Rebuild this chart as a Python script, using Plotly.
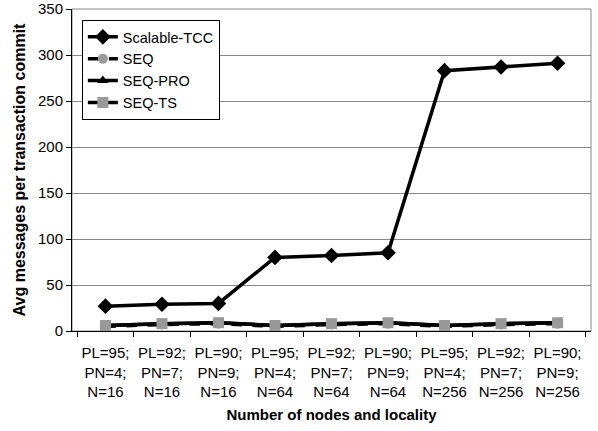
import plotly.graph_objects as go

categories = [
    "PL=95;<br>PN=4;<br>N=16", "PL=92;<br>PN=7;<br>N=16", "PL=90;<br>PN=9;<br>N=16",
    "PL=95;<br>PN=4;<br>N=64", "PL=92;<br>PN=7;<br>N=64", "PL=90;<br>PN=9;<br>N=64",
    "PL=95;<br>PN=4;<br>N=256", "PL=92;<br>PN=7;<br>N=256", "PL=90;<br>PN=9;<br>N=256",
]
scalable_tcc = [27, 29, 30, 80, 82, 85, 283, 287, 291]
seq = [5, 7, 8, 5, 7, 8, 5, 7, 8]
seq_pro = [6, 8, 9, 6, 8, 9, 6, 8, 9]
seq_ts = [6, 8, 9, 6, 8, 9, 6, 8, 9]

fig = go.Figure()
fig.add_trace(go.Scatter(x=categories, y=scalable_tcc, name="Scalable-TCC", mode="lines+markers",
                         line=dict(color="black", width=3.5),
                         marker=dict(symbol="diamond", size=12, color="black")))
fig.add_trace(go.Scatter(x=categories, y=seq, name="SEQ", mode="lines+markers",
                         line=dict(color="black", width=3.5, dash="dash"),
                         marker=dict(symbol="circle", size=10, color="#999999")))
fig.add_trace(go.Scatter(x=categories, y=seq_pro, name="SEQ-PRO", mode="lines+markers",
                         line=dict(color="black", width=3.5),
                         marker=dict(symbol="triangle-up", size=10, color="black")))
fig.add_trace(go.Scatter(x=categories, y=seq_ts, name="SEQ-TS", mode="lines+markers",
                         line=dict(color="black", width=3.5),
                         marker=dict(symbol="square", size=11, color="#999999")))

fig.update_layout(
    width=598, height=431,
    margin=dict(l=72, r=7, t=9, b=100, autoexpand=False),
    paper_bgcolor="white", plot_bgcolor="white",
    font=dict(family="Liberation Sans, Arial, sans-serif", size=15, color="black"),
    legend=dict(x=0.019, y=0.966, xanchor="left", yanchor="top",
                bgcolor="white", bordercolor="black", borderwidth=1,
                font=dict(size=14.5), tracegroupgap=0, itemwidth=30),
    showlegend=True,
)
fig.update_xaxes(
    title=dict(text="<b>Number of nodes and locality</b>", font=dict(size=15), standoff=10),
    tickson="boundaries", ticks="outside", ticklen=5, tickcolor="black",
    showline=True, linecolor="black", linewidth=1, mirror=False, tickangle=0,
    showgrid=False, tickfont=dict(size=15), ticklabelstandoff=8, automargin=False,
)
fig.update_yaxes(
    title=dict(text="<b>Avg messages per transaction commit</b>", font=dict(size=16), standoff=8),
    range=[0, 350], dtick=50, ticks="outside", ticklen=5, tickcolor="black",
    showline=True, linecolor="black", linewidth=1,
    showgrid=True, gridcolor="#888888", gridwidth=1, zeroline=False,
    tickfont=dict(size=15), automargin=False,
)
fig.add_shape(type="rect", xref="paper", yref="paper", x0=0, y0=0, x1=1, y1=1,
              line=dict(color="#888888", width=1), layer="below")

fig.write_html("out.html", config={"displayModeBar": False},
               post_script="document.body.style.margin='0px';")
